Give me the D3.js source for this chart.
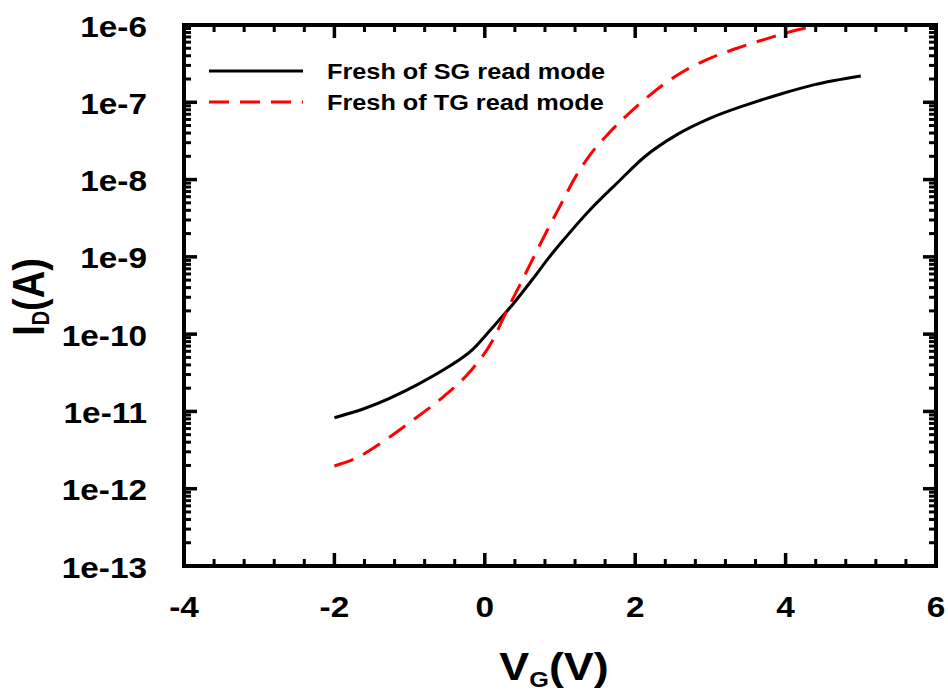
<!DOCTYPE html>
<html>
<head>
<meta charset="utf-8">
<script src="https://cdn.jsdelivr.net/npm/d3@7"></script>
<style>
  html, body { margin: 0; padding: 0; background: #fff; }
  svg { display: block; }
</style>
</head>
<body>
<svg id="chart" width="948" height="693"></svg>
<script>
// ---- data ----
const vgSG = [-2.0, -1.6, -0.89, -0.5, -0.16, 0.08, 0.39, 0.65, 0.85, 1.05, 1.36, 1.76, 2.13, 2.55, 3.0, 3.48, 3.97, 4.37, 5.0];
const idSG = [8.3e-12, 1.09e-11, 2.24e-11, 3.69e-11, 6.35e-11, 1.15e-10, 2.55e-10, 5.36e-10, 9.7e-10, 1.67e-9, 3.70e-9, 9.04e-9, 1.99e-8, 3.79e-8, 6.24e-8, 9.27e-8, 1.31e-7, 1.68e-7, 2.19e-7];
const vgTG = [-2.0, -1.74, -1.34, -0.94, -0.54, -0.19, 0.10, 0.30, 0.48, 0.70, 0.79, 1.01, 1.21, 1.40, 1.65, 1.85, 2.20, 2.60, 3.0, 3.42, 3.84, 4.15, 4.42];
const idTG = [1.97e-12, 2.41e-12, 4.15e-12, 7.93e-12, 1.58e-11, 3.33e-11, 8.13e-11, 2.08e-10, 4.61e-10, 1.24e-9, 1.85e-9, 4.73e-9, 1.10e-8, 2.09e-8, 3.99e-8, 6.24e-8, 1.25e-7, 2.38e-7, 3.72e-7, 5.25e-7, 7.06e-7, 8.61e-7, 9.79e-7];
const seriesNames = ["Fresh of SG read mode", "Fresh of TG read mode"];
const xTickValues = [-4, -2, 0, 2, 4, 6];
const xTickLabels = ["-4", "-2", "0", "2", "4", "6"];
const yTickValues = [1e-13, 1e-12, 1e-11, 1e-10, 1e-9, 1e-8, 1e-7, 1e-6];
const yTickLabels = ["1e-13", "1e-12", "1e-11", "1e-10", "1e-9", "1e-8", "1e-7", "1e-6"];
const xTitle = "V", xSub = "G", xTitleEnd = "(V)";
const yTitle = "I", ySub = "D", yTitleEnd = "(A)";

// ---- layout ----
const L = 184, R = 936, T = 25, B = 566;
const SX = 1.15; // horizontal stretch of text in the reference
const FONT = "'Liberation Sans', Arial, sans-serif";
const svg = d3.select("#chart");

const x = d3.scaleLinear().domain([-4, 6]).range([L, R]);
const y = d3.scaleLog().domain([1e-13, 1e-6]).range([B, T]);

const xMinor = d3.range(-4, 6.0001, 0.4).filter(v => !xTickValues.some(t => Math.abs(t - v) < 1e-6));
const yMinor = [];
for (let e = -13; e < -6; e++) for (let m = 2; m <= 9; m++) yMinor.push(m * Math.pow(10, e));

function addText(g, str, size, anchor) {
  return g.append("text").attr("font-family", FONT).attr("font-weight", "bold")
    .attr("font-size", size).attr("fill", "#000").attr("text-anchor", anchor || "start").text(str);
}

// curves
const line = d3.line().x(d => x(d[0])).y(d => y(d[1])).curve(d3.curveMonotoneX);
svg.append("path").datum(vgSG.map((v, i) => [v, idSG[i]]))
  .attr("d", line).attr("fill", "none").attr("stroke", "#000").attr("stroke-width", 3);
svg.append("path").datum(vgTG.map((v, i) => [v, idTG[i]]))
  .attr("d", line).attr("fill", "none").attr("stroke", "#ff0000").attr("stroke-width", 3)
  .attr("stroke-dasharray", "20,11");

// ticks as filled rects
const tickG = svg.append("g").attr("fill", "#000");
function hTicks(vals, len, w) {
  vals.forEach(d => {
    tickG.append("rect").attr("x", x(d) - w / 2).attr("y", B - len).attr("width", w).attr("height", len);
    tickG.append("rect").attr("x", x(d) - w / 2).attr("y", T).attr("width", w).attr("height", len);
  });
}
function vTicks(vals, len, w) {
  vals.forEach(d => {
    tickG.append("rect").attr("x", L).attr("y", y(d) - w / 2).attr("width", len).attr("height", w);
    tickG.append("rect").attr("x", R - len).attr("y", y(d) - w / 2).attr("width", len).attr("height", w);
  });
}
hTicks(xMinor, 7, 3);
hTicks(xTickValues, 13, 3.5);
vTicks(yMinor, 7, 3);
vTicks(yTickValues, 13, 3.5);

// frame as filled bars
const fw = 4;
tickG.append("rect").attr("x", L - fw / 2).attr("y", T - fw / 2).attr("width", R - L + fw).attr("height", fw);
tickG.append("rect").attr("x", L - fw / 2).attr("y", B - fw / 2).attr("width", R - L + fw).attr("height", fw);
tickG.append("rect").attr("x", L - fw / 2).attr("y", T - fw / 2).attr("width", fw).attr("height", B - T + fw);
tickG.append("rect").attr("x", R - fw / 2).attr("y", T - fw / 2).attr("width", fw).attr("height", B - T + fw);

// tick labels
xTickValues.forEach((d, i) => {
  const g = svg.append("g").attr("transform", `translate(${x(d)},${B + 51}) scale(${SX},1)`);
  addText(g, xTickLabels[i], 29, "middle");
});
yTickValues.forEach((d, i) => {
  const g = svg.append("g").attr("transform", `translate(${L - 37},${y(d)}) scale(${SX},1)`);
  addText(g, yTickLabels[i], 29, "end").attr("dy", "0.4em");
});

// legend
const legendRows = [
  { name: seriesNames[0], color: "#000", dash: null, y: 71 },
  { name: seriesNames[1], color: "#ff0000", dash: "20,11", y: 102 }
];
legendRows.forEach(r => {
  const ln = svg.append("line").attr("x1", 209).attr("x2", 303).attr("y1", r.y).attr("y2", r.y)
    .attr("stroke", r.color).attr("stroke-width", 3);
  if (r.dash) ln.attr("stroke-dasharray", r.dash);
  const g = svg.append("g").attr("transform", `translate(327,${r.y + 8}) scale(${SX},1)`);
  addText(g, r.name, 22);
});

// x title
const xg = svg.append("g").attr("transform", `translate(554,680) scale(${SX},1)`);
const xt = addText(xg, null, 39, "middle");
xt.append("tspan").text(xTitle);
xt.append("tspan").attr("font-size", 22).attr("dy", 7).text(xSub);
xt.append("tspan").attr("dy", -7).text(xTitleEnd);

// y title
const yg = svg.append("g").attr("transform", `translate(44,297) scale(${SX},1) rotate(-90)`);
const yt = addText(yg, null, 38, "middle");
yt.append("tspan").text(yTitle);
yt.append("tspan").attr("font-size", 20).attr("dy", 4).text(ySub);
yt.append("tspan").attr("dy", -4).text(yTitleEnd);
</script>
</body>
</html>
